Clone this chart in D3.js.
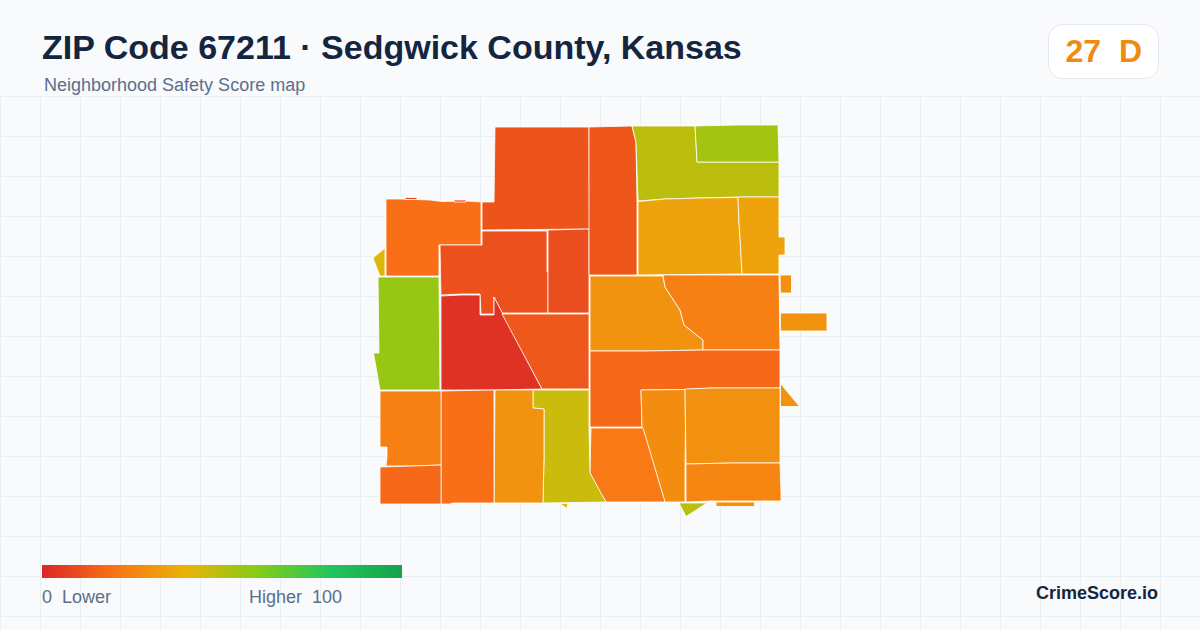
<!DOCTYPE html>
<html>
<head>
<meta charset="utf-8">
<script src="https://cdn.jsdelivr.net/npm/d3@7"></script>
<style>
	html, body { margin: 0; padding: 0; background: #f8fafc; }
	svg { display: block; }
	text { font-family: "Liberation Sans", Arial, sans-serif; }
</style>
</head>
<body>
<script>
var tract_rings = [
	[[495,127],[589,127],[589.5,229],[482,230],[482,202],[494,202]],
	[[386,199],[402,199],[430,200],[442,201.5],[466,201],[481,202],[481,245],[439,245],[439,276],[386,276]],
	[[482,231],[547,231],[547,272],[548,272],[548,313],[502,313],[494,297],[494,314],[481,314],[480,294],[461,294],[441,295],[440,245],[482,245]],
	[[548,230],[589,229],[589,313],[548,313]],
	[[378,277],[439,277],[440,390],[380,390],[373.5,353],[379,353]],
	[[441,296],[461,295],[480,295],[480,315],[494,315],[494,297],[542,389],[492,390],[441,390]],
	[[502,314],[589,314],[589,389],[542,389]],
	[[589,127],[632,126],[636,142],[637,202],[637,275],[589,275]],
	[[632,126],[695,126],[696,143],[697,162],[779,162],[779,197],[738,197],[700,198],[665,199],[638,201],[637,170],[636,142]],
	[[695,126],[737,125],[778,125],[779,162],[697,162],[696,143]],
	[[638,201.5],[665,199],[700,198],[738,197.5],[739,223],[740,237],[742,274],[638,275]],
	[[738,197],[779,197],[779,237],[785,237],[785,255],[779,255],[779,274],[742,274],[740,237],[739,223]],
	[[590,276],[663,276],[665,287],[680,310],[684,325],[703,340],[703,350],[647,351],[590,351]],
	[[663,275],[779,275],[780,350],[703,350],[703,340],[684,325],[680,310],[665,287]],
	[[590,351],[647,351],[703,350],[780,350],[780,388],[712,388],[685,389.5],[641,390],[642,427],[590,427]],
	[[641,390],[685,389.5],[685.5,427],[685,464],[685,502],[665,502],[643,430],[642,427]],
	[[685,389],[712,388],[780,388],[780,463],[733,463],[686,464]],
	[[686,464],[733,463],[780,463],[781,493],[781,501],[710,501],[686,502]],
	[[591,428],[643,428],[665,502],[606,502],[600,492],[590,473]],
	[[533,390],[589,390],[589,427],[590,473],[606,502],[543,503],[544,457],[544,409],[533,408]],
	[[495,390],[533,390],[533,408],[544,409],[544,457],[543,503],[494,503]],
	[[441,391],[492,390],[494,390],[494,503],[453,503],[450,504],[441,504]],
	[[380,391],[441,391],[441,465],[413,466],[386,466],[387,457],[387,447],[380,447]],
	[[380,467],[413,466],[441,465],[441,504],[380,504]],
	[[373,258],[385,248],[385,276],[380,276]],
	[[780,275],[791.5,275],[791.5,293],[780.5,293]],
	[[780.5,313],[827,313],[827,331],[780.5,331]],
	[[780.5,383.5],[799.5,406.5],[780.5,406.5]],
	[[679,503],[707,503],[686,516.5]],
	[[716,502],[754.5,502],[754.5,506.5],[716,506.5]],
	[[559.5,503.5],[567.5,503.5],[567.5,508.5]],
	[[405,197.5],[417,197.5],[417,199.5],[405,199.5]],
	[[454,200],[466,200],[466,202],[454,202]]
];
var tract_scores = [12, 19, 11, 10.5, 56, 3, 13, 12.5, 49, 54, 35, 35, 30, 24, 17.5, 28, 29, 26, 22, 46, 30, 19, 24, 17.5, 43, 29, 30, 30, 50, 30, 40, 8, 8];

var score_stops = [0, 20, 40, 60, 80, 100];
var score_colors = ["#dc2626", "#f97316", "#eab308", "#84cc16", "#22c55e", "#16a34a"];

var title_text = "ZIP Code 67211 \u00b7 Sedgwick County, Kansas";
var subtitle_text = "Neighborhood Safety Score map";
var zip_score = 27;
var zip_grade = "D";
var legend_low = ["0", "Lower"];
var legend_high = ["Higher", "100"];
var brand_text = "CrimeScore.io";

var w = 1200, h = 630;

var svg = d3.select("body").append("svg")
	.attr("width", w)
	.attr("height", h);

svg.append("rect")
	.attr("width", w)
	.attr("height", h)
	.attr("fill", "#f8fafc");

// background grid, below the header only
var grid_x = d3.range(0, w, 40);
var grid_y = d3.range(97, h, 40);

svg.append("g").selectAll("line").data(grid_x).join("line")
	.attr("x1", function(d) { return d + 0.5; })
	.attr("x2", function(d) { return d + 0.5; })
	.attr("y1", 97)
	.attr("y2", h)
	.attr("stroke", "#e8f0f3")
	.attr("stroke-width", 1);

svg.append("g").selectAll("line").data(grid_y).join("line")
	.attr("x1", 0)
	.attr("x2", w)
	.attr("y1", function(d) { return d - 0.5; })
	.attr("y2", function(d) { return d - 0.5; })
	.attr("stroke", "#e8f0f3")
	.attr("stroke-width", 1);

var color = d3.scaleLinear()
	.domain(score_stops)
	.range(score_colors)
	.interpolate(d3.interpolateRgb);

var features = tract_rings.map(function(ring, i) {
	return {
		type: "Feature",
		properties: { score: tract_scores[i] },
		geometry: { type: "Polygon", coordinates: [ring.concat([ring[0]])] }
	};
});

var projection = d3.geoIdentity()
	.fitExtent([[373, 125], [827, 516.5]], { type: "FeatureCollection", features: features });
var path = d3.geoPath(projection);

svg.append("g").selectAll("path").data(features).join("path")
	.attr("d", path)
	.attr("fill", function(d) { return color(d.properties.score); })
	.attr("stroke", "#ffffff")
	.attr("stroke-width", 0.8)
	.attr("stroke-linejoin", "round");

// header
svg.append("text")
	.attr("x", 42)
	.attr("y", 59)
	.attr("font-size", 34)
	.attr("font-weight", 700)
	.attr("fill", "#14263f")
	.text(title_text);

svg.append("text")
	.attr("x", 44)
	.attr("y", 91)
	.attr("font-size", 18)
	.attr("fill", "#5a6f8c")
	.text(subtitle_text);

// score badge
svg.append("rect")
	.attr("x", 1048.5)
	.attr("y", 24.5)
	.attr("width", 110)
	.attr("height", 54)
	.attr("rx", 14)
	.attr("fill", "#ffffff")
	.attr("stroke", "#e2e8f0");

svg.append("text")
	.attr("x", 1065.5)
	.attr("y", 62)
	.attr("font-size", 32)
	.attr("font-weight", 700)
	.attr("fill", "#f08a13")
	.attr("xml:space", "preserve")
	.text(zip_score + "  " + zip_grade);

// legend
var legend_scale = d3.scaleLinear().domain([0, 100]).range([42, 402]);

var gradient = svg.append("defs").append("linearGradient")
	.attr("id", "legend-gradient");

gradient.selectAll("stop").data(score_stops).join("stop")
	.attr("offset", function(d) { return d + "%"; })
	.attr("stop-color", function(d) { return color(d); });

svg.append("rect")
	.attr("x", legend_scale(0))
	.attr("y", 565)
	.attr("width", legend_scale(100) - legend_scale(0))
	.attr("height", 13)
	.attr("fill", "url(#legend-gradient)");

svg.append("text")
	.attr("x", legend_scale(0))
	.attr("y", 603)
	.attr("font-size", 18)
	.attr("fill", "#5a6f8c")
	.attr("xml:space", "preserve")
	.text(legend_low.join("  "));

svg.append("text")
	.attr("x", 249)
	.attr("y", 603)
	.attr("font-size", 18)
	.attr("fill", "#5a6f8c")
	.attr("xml:space", "preserve")
	.text(legend_high.join("  "));

svg.append("text")
	.attr("x", 1158)
	.attr("y", 599)
	.attr("text-anchor", "end")
	.attr("font-size", 18)
	.attr("font-weight", 700)
	.attr("fill", "#14263f")
	.text(brand_text);
</script>
</body>
</html>
